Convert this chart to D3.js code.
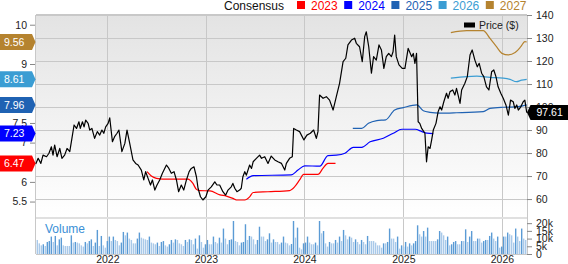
<!DOCTYPE html>
<html>
<head>
<meta charset="utf-8">
<script src="https://cdn.jsdelivr.net/npm/d3@7"></script>
<style>
  body { margin: 0; background: #fff; }
  svg { display: block; font-family: "Liberation Sans", Arial, sans-serif; }
</style>
</head>
<body>
<div id="chart"></div>
<script>
// consensus EPS by fiscal year
const years = ["2023", "2024", "2025", "2026", "2027"];
const yearColors = ["#ff0000", "#0000ff", "#1f62b3", "#3b9dd3", "#b5832f"];
const epsLatest = [6.47, 7.23, 7.96, 8.61, 9.56];

const cons2023 = [["2022-05-28",6.26],["2022-06-13",6.15],["2022-07-02",6.09],["2022-07-26",6.07],["2022-10-27",6.07],["2022-11-14",5.96],["2022-11-27",5.81],["2022-12-09",5.78],["2023-01-16",5.77],["2023-02-22",5.67],["2023-03-18",5.64],["2023-04-11",5.58],["2023-04-24",5.54],["2023-05-25",5.54],["2023-06-12",5.62],["2023-06-25",5.73],["2023-08-19",5.75],["2023-11-07",5.78],["2023-11-26",5.88],["2023-12-14",6.05],["2023-12-29",6.19],["2024-02-20",6.19],["2024-03-10",6.35],["2024-03-28",6.47],["2024-04-25",6.47]];
const cons2024 = [["2023-05-31",6.07],["2023-06-25",6.16],["2023-11-13",6.18],["2023-12-08",6.30],["2024-01-02",6.41],["2024-02-27",6.40],["2024-03-28",6.67],["2024-04-28",6.68],["2024-05-30",6.73],["2024-06-30",6.88],["2024-07-31",6.88],["2024-08-31",7.02],["2024-10-19",7.11],["2024-11-25",7.24],["2024-12-27",7.34],["2025-02-14",7.34],["2025-03-11",7.28],["2025-03-29",7.24],["2025-04-22",7.23]];
const cons2025 = [["2024-06-28",7.36],["2024-07-31",7.36],["2024-08-25",7.49],["2024-09-25",7.56],["2024-10-28",7.58],["2024-11-30",7.83],["2025-01-01",7.89],["2025-02-20",7.96],["2025-03-16",7.81],["2025-04-10",7.77],["2025-05-17",7.75],["2025-07-17",7.76],["2025-10-24",7.79],["2025-11-18",7.87],["2026-01-06",7.90],["2026-02-25",7.91],["2026-04-03",7.96]];
const cons2026 = [["2025-06-26",8.64],["2025-08-24",8.68],["2025-09-30",8.69],["2025-11-18",8.66],["2026-01-06",8.64],["2026-01-31",8.61],["2026-02-24",8.55],["2026-03-15",8.59],["2026-04-03",8.61]];
const cons2027 = [["2025-06-26",9.80],["2025-08-24",9.85],["2025-10-24",9.85],["2025-11-18",9.65],["2025-12-12",9.44],["2026-01-01",9.27],["2026-01-25",9.23],["2026-02-19",9.29],["2026-03-12",9.44],["2026-03-27",9.57],["2026-04-03",9.56]];
const consensus = [cons2023, cons2024, cons2025, cons2026, cons2027];

// share price ($)
const price = [["2021-04-11",75.2],["2021-04-20",77.7],["2021-04-30",75.5],["2021-05-08",79.1],["2021-05-21",78.4],["2021-05-30",79.9],["2021-06-08",82.7],["2021-06-14",79.1],["2021-06-20",83.5],["2021-06-29",78.4],["2021-07-09",82.0],["2021-07-17",77.7],["2021-07-27",79.1],["2021-08-05",82.0],["2021-08-15",80.6],["2021-08-23",86.4],["2021-08-31",92.2],["2021-09-09",90.7],["2021-09-18",93.6],["2021-09-23",90.7],["2021-10-01",93.6],["2021-10-07",91.4],["2021-10-13",94.3],["2021-10-22",92.9],["2021-10-28",90.0],["2021-11-05",90.7],["2021-11-15",86.4],["2021-11-25",89.3],["2021-12-04",87.8],["2021-12-12",90.0],["2021-12-19",88.6],["2021-12-26",91.4],["2022-01-04",92.9],["2022-01-10",95.3],["2022-01-20",84.9],["2022-01-28",87.1],["2022-02-06",88.6],["2022-02-13",90.0],["2022-02-24",80.6],["2022-03-07",84.2],["2022-03-15",90.0],["2022-03-25",84.2],["2022-04-06",77.0],["2022-04-16",75.5],["2022-04-25",74.8],["2022-05-07",72.6],["2022-05-16",68.3],["2022-05-23",71.9],["2022-06-01",69.0],["2022-06-10",66.1],["2022-06-17",68.3],["2022-06-26",63.9],["2022-07-04",66.1],["2022-07-14",68.3],["2022-07-24",71.2],["2022-08-08",74.8],["2022-08-17",73.3],["2022-08-26",71.2],["2022-09-05",71.9],["2022-09-14",68.3],["2022-09-22",63.2],["2022-10-02",66.1],["2022-10-11",63.9],["2022-10-21",68.3],["2022-10-31",71.9],["2022-11-08",73.3],["2022-11-18",74.0],["2022-11-27",69.7],["2022-12-03",64.7],["2022-12-12",61.0],["2022-12-21",59.6],["2023-01-01",61.0],["2023-01-09",63.9],["2023-01-21",65.3],["2023-02-03",67.5],["2023-02-11",66.1],["2023-02-21",66.1],["2023-03-05",63.2],["2023-03-15",61.7],["2023-03-24",63.9],["2023-04-05",65.3],["2023-04-11",66.8],["2023-04-18",64.7],["2023-04-26",63.2],["2023-05-06",63.9],["2023-05-12",64.7],["2023-05-18",69.7],["2023-05-25",71.9],["2023-05-31",70.4],["2023-06-12",74.8],["2023-06-19",73.3],["2023-06-25",76.2],["2023-07-07",77.7],["2023-07-19",79.1],["2023-07-26",77.7],["2023-08-07",78.4],["2023-08-19",75.5],["2023-08-31",78.7],["2023-09-13",77.0],["2023-09-25",76.2],["2023-10-08",75.5],["2023-10-20",72.6],["2023-10-26",75.5],["2023-11-07",77.7],["2023-11-17",78.4],["2023-11-22",90.7],["2023-12-02",90.0],["2023-12-14",89.3],["2023-12-30",85.7],["2024-01-10",87.8],["2024-01-23",88.6],["2024-02-04",90.0],["2024-02-14",86.4],["2024-02-20",89.3],["2024-02-26",105.2],["2024-03-10",103.8],["2024-03-22",104.5],["2024-04-03",103.0],["2024-04-16",98.7],["2024-04-28",104.5],["2024-05-10",110.3],["2024-05-23",119.7],["2024-06-02",121.2],["2024-06-10",127.0],["2024-06-23",129.1],["2024-07-05",129.9],["2024-07-11",127.7],["2024-07-23",126.2],["2024-08-02",119.7],["2024-08-11",130.6],["2024-08-17",132.7],["2024-08-26",126.2],["2024-09-05",114.7],["2024-09-13",121.9],["2024-09-23",120.4],["2024-10-03",127.0],["2024-10-12",124.8],["2024-10-21",116.8],["2024-10-30",121.9],["2024-11-08",123.3],["2024-11-18",121.9],["2024-11-24",124.0],["2024-11-30",131.3],["2024-12-06",121.9],["2024-12-16",118.3],["2024-12-28",116.8],["2025-01-07",116.8],["2025-01-19",125.5],["2025-02-01",121.9],["2025-02-07",123.3],["2025-02-13",119.0],["2025-02-19",123.3],["2025-02-25",93.6],["2025-03-03",92.9],["2025-03-10",90.7],["2025-03-22",88.6],["2025-03-28",76.2],["2025-04-03",82.7],["2025-04-10",82.0],["2025-04-16",85.7],["2025-04-22",90.0],["2025-05-02",92.9],["2025-05-10",98.0],["2025-05-17",100.1],["2025-05-23",98.7],["2025-05-31",102.3],["2025-06-10",106.0],["2025-06-16",103.8],["2025-06-23",106.7],["2025-07-03",107.4],["2025-07-11",105.2],["2025-07-17",108.1],["2025-07-23",105.2],["2025-07-30",101.6],["2025-08-05",107.4],["2025-08-17",110.3],["2025-08-26",113.2],["2025-09-05",122.6],["2025-09-13",124.8],["2025-09-23",120.4],["2025-10-02",117.5],["2025-10-09",119.0],["2025-10-18",114.7],["2025-10-26",113.2],["2025-11-05",108.8],["2025-11-14",107.4],["2025-11-24",115.3],["2025-12-02",116.1],["2025-12-10",113.2],["2025-12-18",108.8],["2025-12-28",106.0],["2026-01-06",103.8],["2026-01-16",100.9],["2026-01-25",96.5],["2026-02-02",103.0],["2026-02-12",102.3],["2026-02-18",99.4],["2026-02-25",100.9],["2026-03-03",98.7],["2026-03-12",100.1],["2026-03-21",102.3],["2026-03-27",103.0],["2026-04-03",97.6]];
const lastPrice = 97.61;

// weekly volume (thousands)
const volume = [9.1,6.9,5.6,6.3,5.2,7.8,8.4,11.3,7.8,11.7,5.6,9.5,10.6,5.6,5.2,5.2,5.2,12.1,7.4,7.8,7.4,6.9,5.6,4.8,7.8,6.9,8.4,9.5,5.2,7.4,15.6,5.2,11.7,5.6,4.1,
  8.4,11.3,8.4,11.3,9.1,8.4,5.6,7.4,14.3,12.1,13.9,10,9.1,6.9,6.9,10,13.9,10.6,10,9.5,9.1,11.3,7.4,6.9,6.3,7.4,5.2,7.8,8.4,5.6,4.8,6.3,9.1,7.4,9.5,9.1,6.9,6.3,5.2,9.1,7.8,9.5,9.1,6.3,10,3.5,
  12.1,7.8,4.1,6.3,9.1,6.3,6.3,11.3,7.8,6.9,10.6,7.4,16.5,10,6.3,9.1,9.5,21.4,8.4,7.8,5.6,7.4,7.8,19.3,9.1,11.7,11.3,9.5,6.3,9.1,17.7,11.3,11.3,8.4,9.5,13.4,7.4,9.5,7.8,7.8,6.3,7.4,11.3,7.4,6.9,5.6,6.5,21.4,10.6,17.1,4.1,3.0,6.9,7.4,11.3,7.4,6.3,6.3,7.4,5.6,21.4,13.4,14.9,6.9,4.8,7.8,6.9,6.9,9.1,7.4,11.3,8.4,15.6,12.1,9.5,11.3,10.6,7.8,9.5,7.8,6.3,9.1,
  7.8,6.3,11.7,8.4,8.4,8.4,7.4,5.6,5.6,4.1,6.9,6.9,7.8,16.5,10,10,7.8,11.3,3.5,5.6,4.8,7.8,4.8,6.9,5.6,6.9,8.4,18.6,12.8,11.3,14.9,11.3,17.1,8.4,8.4,8.4,8.4,9.5,14.9,13.9,12.1,9.1,11.3,5.6,6.3,7.8,8.4,6.3,6.3,8.4,8.4,16,7.8,11.3,14.9,8.4,8.4,10,10,7.4,8.4,9.1,9.1,11.7,13.9,10,8.4,11.3,4.1,4.8,11.3,11.3,13.9,12.8,12.1,7.4,16.5,11.3,8.4,16.5,10,9.1];

// EPS ticks left visible beside the flags
const epsTicks = [5.5, 6, 7, 7.5, 9, 10];
const priceTicks = [60, 70, 80, 90, 100, 110, 120, 130, 140];
const volTicks = [0, 5, 10, 15, 20];
const volTickLabels = ["0", "5k", "10k", "15k", "20k"];
const xTickLabels = ["2022", "2023", "2024", "2025", "2026"];

const W = 568, H = 264;
const plotL = 36, plotR = 527, plotT = 15, mainB = 217, volT = 219, volB = 254;
const grid = "#c8c8c8";
const parse = d3.timeParse("%Y-%m-%d");

const svg = d3.select("#chart").append("svg")
    .attr("width", W)
    .attr("height", H);

const x = d3.scaleTime()
    .domain([parse("2021-04-12"), parse("2026-04-04")])
    .range([plotL, plotR]);
const yPrice = d3.scaleLinear().domain([52.2, 140]).range([mainB, plotT]);
const yEps = d3.scaleLinear().domain([5.107, 10.247]).range([mainB, plotT]);
const yVol = d3.scaleLinear().domain([0, 22.7]).range([volB, volT]);

// background
const grad = svg.append("defs").append("linearGradient")
    .attr("id", "bg").attr("x1", 0).attr("y1", 0).attr("x2", 0).attr("y2", 1);
grad.append("stop").attr("offset", 0).attr("stop-color", "#e3e3e3");
grad.append("stop").attr("offset", 1).attr("stop-color", "#ffffff");
svg.append("rect")
    .attr("x", plotL).attr("y", plotT)
    .attr("width", plotR - plotL).attr("height", mainB - plotT)
    .attr("fill", "url(#bg)");

// grid
const yearDates = xTickLabels.map(d => parse(d + "-01-01"));
svg.append("g")
    .selectAll("line")
    .data(priceTicks.slice(0, -1))
    .join("line")
    .attr("x1", plotL).attr("x2", plotR)
    .attr("y1", d => Math.round(yPrice(d)) + 0.5)
    .attr("y2", d => Math.round(yPrice(d)) + 0.5)
    .attr("stroke", grid);
svg.append("g")
    .selectAll("line")
    .data(yearDates)
    .join("line")
    .attr("x1", d => Math.round(x(d)) + 0.5).attr("x2", d => Math.round(x(d)) + 0.5)
    .attr("y1", plotT).attr("y2", volB)
    .attr("stroke", grid);

// volume
const xb = d3.scaleBand().domain(d3.range(volume.length)).range([plotL, plotR]).padding(0.3);
svg.append("g")
    .selectAll("rect")
    .data(volume)
    .join("rect")
    .attr("x", (d, i) => xb(i))
    .attr("y", d => yVol(d))
    .attr("width", xb.bandwidth())
    .attr("height", d => yVol(0) - yVol(d))
    .attr("fill", (d, i) => i > 0 && d > volume[i - 1] ? "#5b9bd5" : "#a9c9e9");

svg.append("text")
    .attr("x", 45).attr("y", 233)
    .attr("font-size", 12)
    .attr("fill", "#3a8fd6")
    .text("Volume");

// panel frame
svg.append("rect")
    .attr("x", plotL).attr("y", mainB)
    .attr("width", plotR - plotL).attr("height", volT - mainB)
    .attr("fill", "#e0e0e0");
svg.append("line")
    .attr("x1", plotL).attr("x2", plotR).attr("y1", plotT).attr("y2", plotT)
    .attr("stroke", grid).attr("stroke-width", 2);
svg.append("line")
    .attr("x1", plotL).attr("x2", plotR).attr("y1", volB + 0.5).attr("y2", volB + 0.5)
    .attr("stroke", grid);
[plotL - 0.5, plotR + 0.5].forEach(px => {
  svg.append("line")
      .attr("x1", px).attr("x2", px).attr("y1", plotT).attr("y2", volB)
      .attr("stroke", grid);
});

// consensus lines
const epsLine = d3.line()
    .x(d => x(parse(d[0])))
    .y(d => yEps(d[1]))
    .curve(d3.curveMonotoneX);
svg.append("g")
    .selectAll("path")
    .data(consensus)
    .join("path")
    .attr("d", epsLine)
    .attr("fill", "none")
    .attr("stroke", (d, i) => yearColors[i])
    .attr("stroke-width", 1.2);

// price line
const priceLine = d3.line()
    .x(d => x(parse(d[0])))
    .y(d => yPrice(d[1]));
svg.append("path")
    .datum(price)
    .attr("d", priceLine)
    .attr("fill", "none")
    .attr("stroke", "#000")
    .attr("stroke-width", 1.2)
    .attr("stroke-linejoin", "round");

// axes
function styleAxis(g) {
  g.select(".domain").remove();
  g.selectAll(".tick line").attr("stroke", "#888");
  g.selectAll(".tick text")
      .attr("fill", "#222")
      .attr("font-size", 10.5)
      .attr("font-family", "Liberation Sans, Arial, sans-serif");
}

svg.append("g")
    .attr("transform", `translate(${plotL - 1},0)`)
    .call(d3.axisLeft(yEps).tickValues(epsTicks).tickSize(5).tickPadding(3).tickFormat(String))
    .call(styleAxis);

svg.append("g")
    .attr("transform", `translate(${plotR},0)`)
    .call(d3.axisRight(yPrice).tickValues(priceTicks).tickSize(5).tickPadding(4))
    .call(styleAxis);

svg.append("g")
    .attr("transform", `translate(${plotR},0)`)
    .call(d3.axisRight(yVol).tickValues(volTicks).tickSize(5).tickPadding(4)
        .tickFormat((d, i) => volTickLabels[i]))
    .call(styleAxis);

svg.append("g")
    .attr("transform", `translate(0,${volB})`)
    .call(d3.axisBottom(x).tickValues(yearDates).tickSize(0).tickPadding(2)
        .tickFormat((d, i) => xTickLabels[i]))
    .call(styleAxis);

// EPS flags on the left
const flags = svg.append("g")
    .selectAll("g")
    .data(epsLatest)
    .join("g")
    .attr("transform", d => `translate(0,${yEps(d)})`);
flags.append("path")
    .attr("d", "M0,-8H32L35.5,0L32,8H0Z")
    .attr("fill", (d, i) => yearColors[i]);
flags.append("text")
    .attr("x", 4).attr("dy", "0.36em")
    .attr("font-size", 10.5)
    .attr("fill", "#fff")
    .text(d => d.toFixed(2));

// last price flag
const pf = svg.append("g").attr("transform", `translate(${plotR},${yPrice(lastPrice)})`);
pf.append("path")
    .attr("d", "M0,0L3.5,-7.5H41V7.5H3.5Z")
    .attr("fill", "#000");
pf.append("text")
    .attr("x", 9.5).attr("dy", "0.36em")
    .attr("font-size", 10.5)
    .attr("fill", "#fff")
    .text(lastPrice.toFixed(2));

// price legend
svg.append("rect")
    .attr("x", 464).attr("y", 22.5).attr("width", 11).attr("height", 5)
    .attr("fill", "#000");
svg.append("text")
    .attr("x", 479).attr("y", 29)
    .attr("font-size", 10.5).attr("fill", "#222")
    .text("Price ($)");

// consensus legend
svg.append("text")
    .attr("x", 224).attr("y", 9.5)
    .attr("font-size", 12).attr("fill", "#111")
    .text("Consensus");
const leg = svg.append("g")
    .selectAll("g")
    .data(years)
    .join("g")
    .attr("transform", (d, i) => `translate(${297 + i * 47.2},0)`);
leg.append("rect")
    .attr("y", 1).attr("width", 8).attr("height", 8)
    .attr("fill", (d, i) => yearColors[i]);
leg.append("text")
    .attr("x", 14).attr("y", 9.5)
    .attr("font-size", 12)
    .attr("fill", (d, i) => yearColors[i])
    .text(d => d);
</script>
</body>
</html>
